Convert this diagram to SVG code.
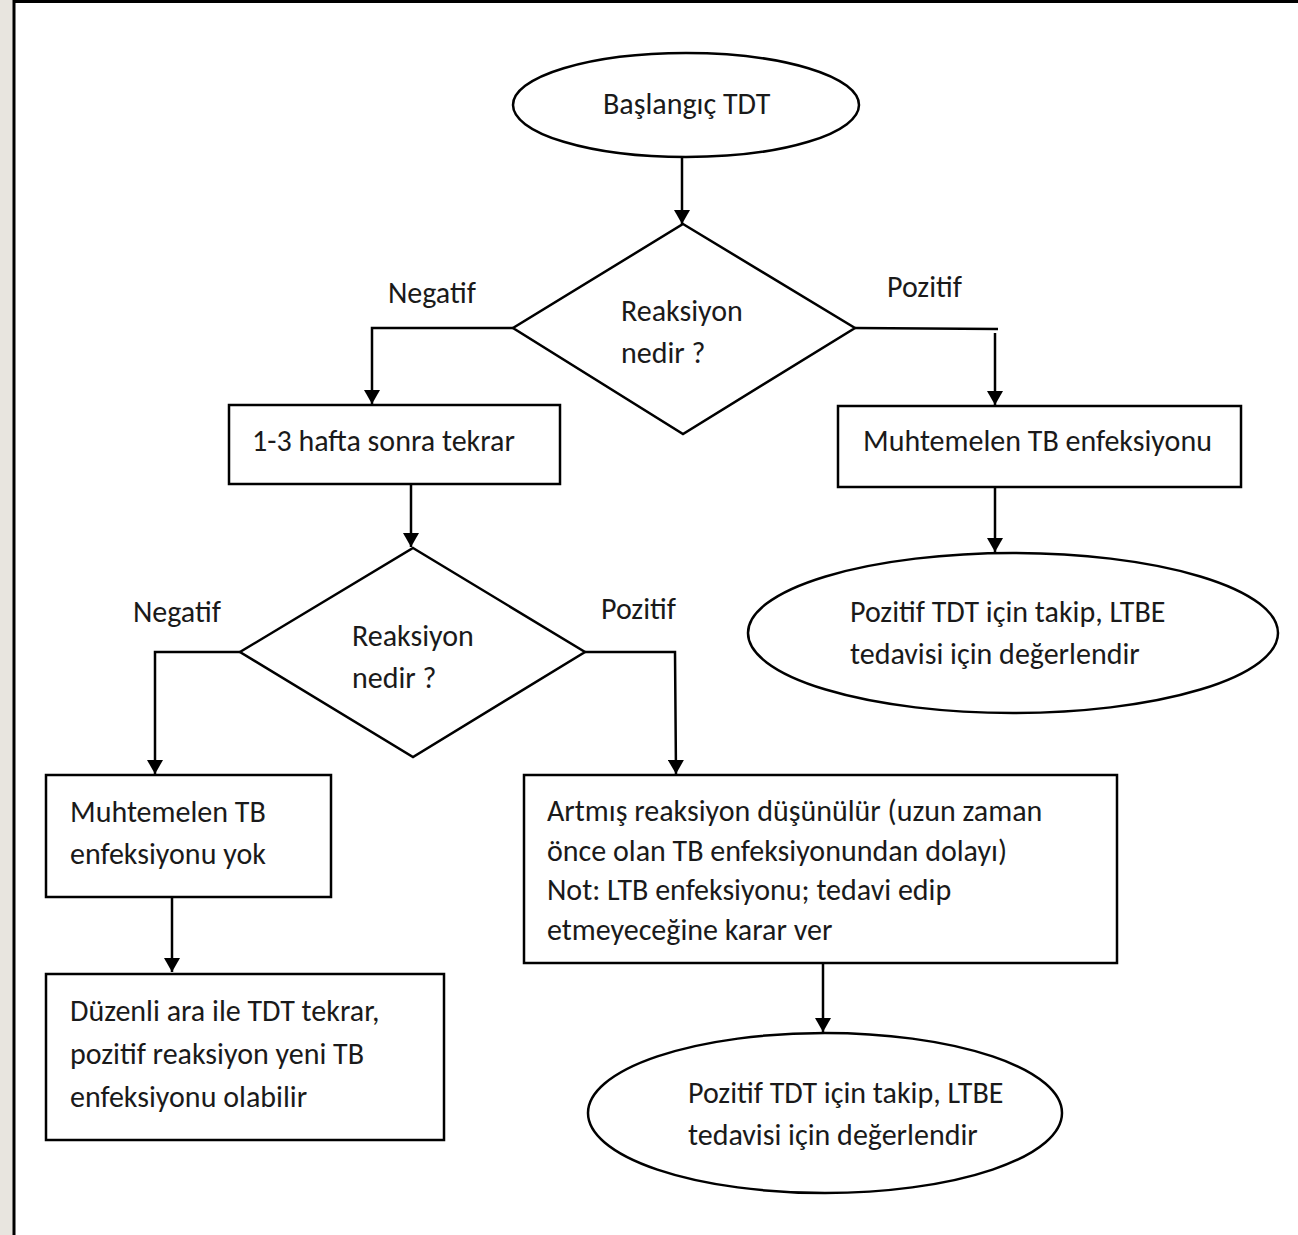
<svg xmlns="http://www.w3.org/2000/svg" width="1298" height="1235" viewBox="0 0 1298 1235">
<style>
.s{fill:#fff;stroke:#000;stroke-width:2.5}
.c{fill:none;stroke:#000;stroke-width:2.5}
text{font-family:Carlito,Lato,"Liberation Sans",sans-serif;font-size:30px;fill:#1a1a1a}
</style>
<defs>
<marker id="ah" viewBox="0 0 14 16" refX="14" refY="8" markerWidth="14" markerHeight="16" markerUnits="userSpaceOnUse" orient="auto">
<path d="M0,0 L14,8 L0,16 Z" fill="#000"/>
</marker>
</defs>
<rect x="0" y="0" width="1298" height="1235" fill="#fff"/>
<rect x="0" y="0" width="13" height="1235" fill="#e8e5df"/>
<line x1="14" y1="0" x2="14" y2="1235" stroke="#000" stroke-width="3"/>
<line x1="13" y1="1.5" x2="1298" y2="1.5" stroke="#000" stroke-width="3"/>

<g id="connectors">
<path class="c" d="M682,157 L682,224" marker-end="url(#ah)"/>
<path class="c" d="M513,328 L372,328 L372,404" marker-end="url(#ah)"/>
<path class="c" d="M855,328 L998,329"/>
<path class="c" d="M995,333 L995,405" marker-end="url(#ah)"/>
<path class="c" d="M411,484 L411,547" marker-end="url(#ah)"/>
<path class="c" d="M240,652 L155,652 L155,774" marker-end="url(#ah)"/>
<path class="c" d="M585,652 L675,652 L676,774" marker-end="url(#ah)"/>
<path class="c" d="M995,487 L995,552" marker-end="url(#ah)"/>
<path class="c" d="M172,897 L172,972" marker-end="url(#ah)"/>
<path class="c" d="M823,963 L823,1032" marker-end="url(#ah)"/>
</g>

<g id="start">
<ellipse class="s" cx="686" cy="105" rx="173" ry="52"/>
<text x="603" y="114">Başlangıç TDT</text>
</g>

<g id="decision1">
<polygon class="s" points="683,224 855,328 683,434 513,328"/>
<text x="621" y="321">Reaksiyon</text>
<text x="621" y="363">nedir ?</text>
</g>
<g id="label-neg1"><text x="388" y="303">Negatif</text></g>
<g id="label-pos1"><text x="887" y="297">Pozitif</text></g>

<g id="repeat">
<rect class="s" x="229" y="405" width="331" height="79"/>
<text x="252" y="451">1-3 hafta sonra tekrar</text>
</g>

<g id="probable-tb">
<rect class="s" x="838" y="406" width="403" height="81"/>
<text x="863" y="451">Muhtemelen TB enfeksiyonu</text>
</g>

<g id="followup1">
<ellipse class="s" cx="1013" cy="633" rx="265" ry="80"/>
<text x="850" y="622">Pozitif TDT için takip, LTBE</text>
<text x="850" y="664">tedavisi için değerlendir</text>
</g>

<g id="decision2">
<polygon class="s" points="413,548 585,652 413,757 240,652"/>
<text x="352" y="646">Reaksiyon</text>
<text x="352" y="688">nedir ?</text>
</g>
<g id="label-neg2"><text x="133" y="622">Negatif</text></g>
<g id="label-pos2"><text x="601" y="619">Pozitif</text></g>

<g id="no-tb">
<rect class="s" x="46" y="775" width="285" height="122"/>
<text x="70" y="822">Muhtemelen TB</text>
<text x="70" y="864">enfeksiyonu yok</text>
</g>

<g id="periodic">
<rect class="s" x="46" y="974" width="398" height="166"/>
<text x="70" y="1021">Düzenli ara ile TDT tekrar,</text>
<text x="70" y="1064">pozitif reaksiyon yeni TB</text>
<text x="70" y="1107">enfeksiyonu olabilir</text>
</g>

<g id="boosted">
<rect class="s" x="524" y="775" width="593" height="188"/>
<text x="547" y="821">Artmış reaksiyon düşünülür (uzun zaman</text>
<text x="547" y="861">önce olan TB enfeksiyonundan dolayı)</text>
<text x="547" y="900">Not: LTB enfeksiyonu; tedavi edip</text>
<text x="547" y="940">etmeyeceğine karar ver</text>
</g>

<g id="followup2">
<ellipse class="s" cx="825" cy="1113" rx="237" ry="80"/>
<text x="688" y="1103">Pozitif TDT için takip, LTBE</text>
<text x="688" y="1145">tedavisi için değerlendir</text>
</g>
</svg>
